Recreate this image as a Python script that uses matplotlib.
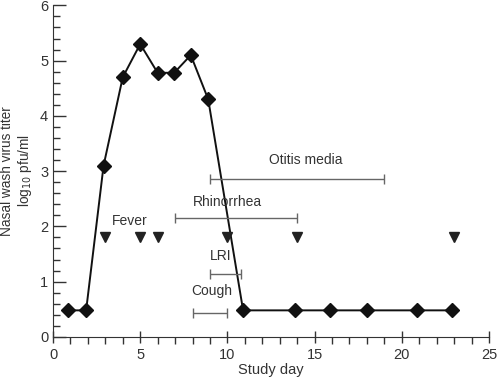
import numpy as np
import matplotlib.pyplot as plt
from matplotlib.ticker import MultipleLocator

plt.rcParams['font.family'] = ['Liberation Sans', 'DejaVu Sans']
plt.rcParams['font.size'] = 10

# virus titer
days = [0.85, 1.9, 2.9, 4, 5, 6, 6.95, 7.9, 8.9, 10.9, 13.9, 15.9, 18, 20.9, 22.9]
titer = [0.48, 0.48, 3.1, 4.7, 5.3, 4.78, 4.78, 5.1, 4.3, 0.48, 0.48, 0.48, 0.48, 0.48, 0.48]

# fever days
fever_days = [3, 5, 6, 10, 14, 23]
fever_level = 1.8

# symptom intervals: name, start, end, y of bar
symptoms = ["Otitis media", "Rhinorrhea", "LRI", "Cough"]
sym_start = [9, 7, 9, 8]
sym_end = [19, 14, 10.8, 10]
sym_y = [2.86, 2.15, 1.14, 0.43]
label_x = [14.5, 10.0, 9.6, 9.1]
label_y = [3.2, 2.45, 1.46, 0.83]

fig = plt.figure(figsize=(5, 3.85), dpi=100)
ax = fig.add_axes([0.106, 0.125, 0.872, 0.861])

gray = '#666666'
txt = '#333333'
for name, s, e, yv, lx, ly in zip(symptoms, sym_start, sym_end, sym_y, label_x, label_y):
    ax.errorbar((s + e) / 2, yv, xerr=(e - s) / 2, fmt='none', ecolor=gray,
                elinewidth=1, capsize=3.5, capthick=1)
    ax.text(lx, ly, name, ha='center', va='center', color=txt)

ax.text(4.4, 2.1, "Fever", ha='center', va='center', color=txt)
ax.plot(fever_days, [fever_level] * len(fever_days), linestyle='none',
        marker='v', markersize=7, color='#222222')

ax.plot(days, titer, color='#111111', lw=1.4, marker='D', markersize=7,
        markerfacecolor='#111111', zorder=1)

ax.set_xlim(0, 25)
ax.set_ylim(0, 6)
ax.xaxis.set_major_locator(MultipleLocator(5))
ax.xaxis.set_minor_locator(MultipleLocator(1))
ax.yaxis.set_major_locator(MultipleLocator(1))
ax.yaxis.set_minor_locator(MultipleLocator(0.2))
ax.tick_params(axis='x', which='major', direction='inout', length=9, width=1, color=txt)
ax.tick_params(axis='x', which='minor', direction='out', length=5, width=1, color=txt)
ax.tick_params(axis='y', which='major', direction='in', length=9, width=1, color=txt)
ax.tick_params(axis='y', which='minor', direction='in', length=5, width=1, color=txt)
ax.tick_params(labelsize=10.5, labelcolor=txt)
for sp in ['top', 'right']:
    ax.spines[sp].set_visible(False)
for sp in ['left', 'bottom']:
    ax.spines[sp].set_color(txt)

ax.set_xlabel("Study day", color=txt, fontsize=10.5, labelpad=1)
fig.text(0.034, 0.556, "Nasal wash virus titer\nlog$_{10}$ pfu/ml", color=txt,
         fontsize=9.8, rotation=90, ha='center', va='center', linespacing=1.2)

fig.savefig("out.png", dpi=100)
